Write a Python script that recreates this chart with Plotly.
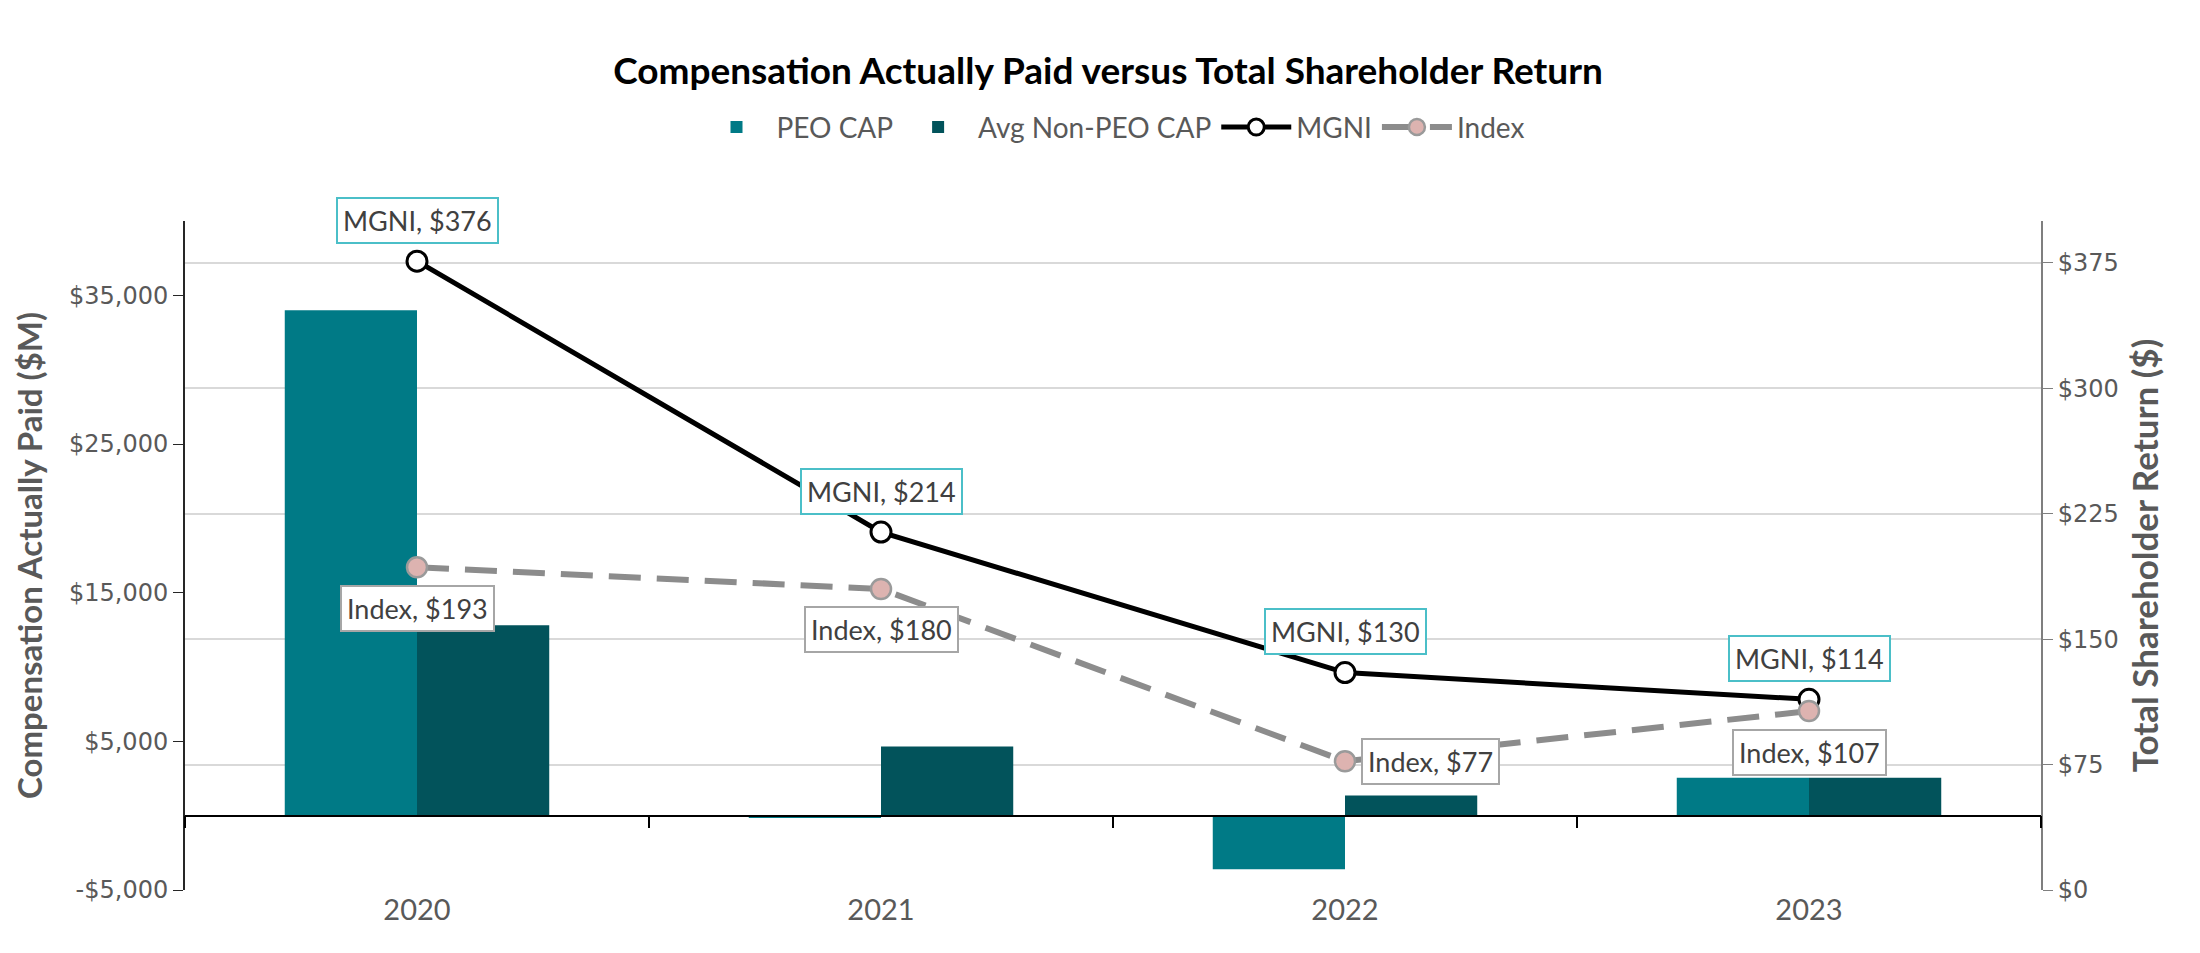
import plotly.graph_objects as go

years = ["2020", "2021", "2022", "2023"]
peo_cap = [34000, -150, -3600, 2550]
non_peo_cap = [12800, 4650, 1350, 2550]
mgni_tsr = [376, 214, 130, 114]
index_tsr = [193, 180, 77, 107]

left_ticks = [-5000, 5000, 15000, 25000, 35000]
left_ticktext = [("-$" if v < 0 else "$") + f"{abs(v):,}" for v in left_ticks]
left_range = [-5000, 40000]

LAB = "Lato, 'Open Sans', sans-serif"
TICKF = "'DejaVu Sans', 'Open Sans', sans-serif"
GRAY = "#595959"

fig = go.Figure()
fig.add_trace(go.Bar(x=years, y=peo_cap, name="PEO CAP", marker=dict(color="#007A86", line=dict(width=0))))
fig.add_trace(go.Bar(x=years, y=non_peo_cap, name="Avg Non-PEO CAP", marker=dict(color="#02535B", line=dict(width=0))))
fig.add_trace(go.Scatter(x=years, y=mgni_tsr, name="MGNI", yaxis="y2", mode="lines+markers",
                         line=dict(color="#000000", width=5),
                         marker=dict(size=20, color="#FFFFFF", line=dict(color="#000000", width=3))))
fig.add_trace(go.Scatter(x=years, y=index_tsr, name="Index", yaxis="y2", mode="lines+markers",
                         line=dict(color="#8C8C8C", width=6, dash="32px,16px"),
                         marker=dict(size=20, color="#DDB3B0", line=dict(color="#9A9A9A", width=2.5))))
# invisible trace that activates the secondary category axis drawn along the zero line
fig.add_trace(go.Scatter(x=years, y=[None] * len(years), xaxis="x2", showlegend=False,
                         hoverinfo="skip", mode="markers"))

annotations = []
for i, v in enumerate(mgni_tsr):
    annotations.append(dict(x=i, y=v, xref="x", yref="y2", text=f"MGNI, ${v}", showarrow=False,
                            yshift=41, bgcolor="#FFFFFF", bordercolor="#4BBFC8", borderwidth=2, borderpad=5,
                            font=dict(family=LAB, size=27, color="#404040")))
for i, v in enumerate(index_tsr):
    a = dict(x=i, y=v, xref="x", yref="y2", text=f"Index, ${v}", showarrow=False,
             bgcolor="#FFFFFF", bordercolor="#A6A6A6", borderwidth=2, borderpad=5,
             font=dict(family=LAB, size=27, color="#404040"))
    if v == min(index_tsr):
        a.update(xanchor="left", xshift=16)
    else:
        a.update(yshift=-41)
    annotations.append(a)

fig.update_layout(
    width=2200, height=953,
    paper_bgcolor="#FFFFFF", plot_bgcolor="#FFFFFF",
    margin=dict(l=177, r=167, t=213, b=71),
    title=dict(text="<b>Compensation Actually Paid versus Total Shareholder Return</b>",
               x=0.5, xanchor="center", y=0.934, yanchor="middle",
               font=dict(family=LAB, size=37, color="#000000")),
    legend=dict(orientation="h", x=0.5, xanchor="center", y=1.14, yanchor="middle",
                font=dict(family=LAB, size=28, color=GRAY), traceorder="normal",
                itemwidth=70),
    barmode="group", bargap=0.43, bargroupgap=0,
    xaxis=dict(type="category", categoryorder="array", categoryarray=years, range=[-0.5, 3.5],
               showgrid=False, showline=False, ticks="", zeroline=False,
               tickfont=dict(family=LAB, size=29, color=GRAY)),
    xaxis2=dict(type="category", categoryorder="array", categoryarray=years, range=[-0.5, 3.5],
                overlaying="x", anchor="free",
                position=(0 - left_range[0]) / (left_range[1] - left_range[0]),
                showline=True, linecolor="#000000", linewidth=1.5, ticks="outside", ticklen=12,
                tickcolor="#000000", tickwidth=1.5, tickson="boundaries", showticklabels=False,
                showgrid=False, zeroline=False),
    yaxis=dict(range=left_range, tickvals=left_ticks, ticktext=left_ticktext, showgrid=False,
               zeroline=True, zerolinecolor="#000000", zerolinewidth=1.5,
               showline=True, linecolor="#262626", linewidth=2, ticks="outside", ticklen=10,
               tickcolor="#262626", tickfont=dict(family=TICKF, size=24, color=GRAY),
               title=dict(text="<b>Compensation Actually Paid ($M)</b>", standoff=16,
                          font=dict(family=LAB, size=33, color=GRAY))),
    yaxis2=dict(range=[0, 400], dtick=75, tick0=0, tickprefix="$", overlaying="y", side="right",
                showgrid=True, gridcolor="#D9D9D9", gridwidth=2, zeroline=False,
                showline=True, linecolor="#7F7F7F", linewidth=2, ticks="outside", ticklen=10,
                tickcolor="#7F7F7F", tickfont=dict(family=TICKF, size=24, color=GRAY),
                title=dict(text="<b>Total Shareholder Return ($)</b>", standoff=16,
                           font=dict(family=LAB, size=35, color=GRAY))),
    annotations=annotations,
)

fig.write_html("out.html")
